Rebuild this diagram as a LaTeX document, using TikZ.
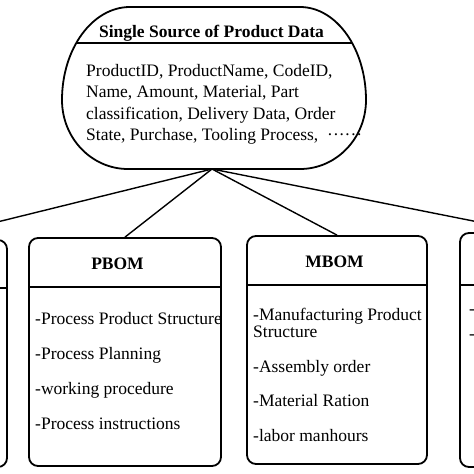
\documentclass[tikz,border=0pt]{standalone}
\usepackage{fontspec}
\setmainfont{Liberation Serif}
\begin{document}
\begin{tikzpicture}[x=1pt,y=-1pt,
  box/.style={draw, line width=1.8pt, rounded corners=9pt, inner sep=0pt},
  outline/.style={line width=1.8pt},
  divider/.style={line width=1.8pt},
  conn/.style={line width=1.4pt},
  txt/.style={anchor=base west, inner sep=0pt, font=\fontsize{17.5}{21}\selectfont},
  ttl/.style={anchor=base, inner sep=0pt, font=\fontsize{17.5}{21}\selectfont\bfseries}]
\useasboundingbox (0,0) rectangle (474,474);

% top source shape
\draw[outline] (130,7) -- (300,7)
  arc[start angle=-90, end angle=0, x radius=66, y radius=93]
  arc[start angle=0, end angle=90, x radius=66, y radius=69]
  -- (128,169)
  arc[start angle=90, end angle=180, x radius=66, y radius=69]
  arc[start angle=180, end angle=270, x radius=68, y radius=93] -- cycle;
\coordinate (hl) at (76.3,43);
\coordinate (hr) at (352.1,43);
\draw[divider] (hl) -- (hr);
\coordinate (src) at (212,169);
\node[ttl] (srctitle) at (211.5,37) {Single Source of Product Data};
\node[txt] (b1) at (86,76) {ProductID, ProductName, CodeID,};
\node[txt] (b2) at (86,97.5) {Name, Amount, Material, Part};
\node[txt] (b3) at (86,119) {classification, Delivery Data, Order};
\node[txt] (b4) at (86,140.5) {State, Purchase, Tooling Process,};
\node[txt] (dots) at (327,140.5) {······};

% boxes
\node[box, minimum width=158pt, minimum height=227pt] (lbox) at (-72,353.5) {};
\node[box, minimum width=192pt, minimum height=228pt] (pbom) at (125,352) {};
\node[box, minimum width=180pt, minimum height=228pt] (mbom) at (337,350) {};
\node[box, minimum width=138pt, minimum height=234pt] (rbox) at (529,350) {};

% header dividers
\path (lbox.north west) ++(0,49) coordinate (l1);
\path (lbox.north east) ++(0,49) coordinate (l2);
\draw[divider] (l1) -- (l2);
\path (pbom.north west) ++(0,50) coordinate (p1);
\path (pbom.north east) ++(0,50) coordinate (p2);
\draw[divider] (p1) -- (p2);
\path (mbom.north west) ++(0,50) coordinate (m1);
\path (mbom.north east) ++(0,50) coordinate (m2);
\draw[divider] (m1) -- (m2);
\path (rbox.north west) ++(0,53) coordinate (r1);
\path (rbox.north east) ++(0,53) coordinate (r2);
\draw[divider] (r1) -- (r2);

% connectors
\draw[conn] (src) -- (lbox.north);
\draw[conn] (src) -- (pbom.north);
\draw[conn] (src) -- (mbom.north);
\draw[conn] (src) -- (rbox.north);

% PBOM
\node[ttl] (ptitle) at (117.5,269) {PBOM};
\node[txt] (p_a) at (35,324) {-Process Product Structure};
\node[txt] (p_b) at (35,359) {-Process Planning};
\node[txt] (p_c) at (35,394) {-working procedure};
\node[txt] (p_d) at (35,429) {-Process instructions};

% MBOM
\node[ttl] (mtitle) at (334.5,267) {MBOM};
\node[txt] (m_a) at (253,320) {-Manufacturing Product};
\node[txt] (m_a2) at (253,337) {Structure};
\node[txt] (m_b) at (253,372) {-Assembly order};
\node[txt] (m_c) at (253,406) {-Material Ration};
\node[txt] (m_d) at (253,441) {-labor manhours};

% right box visible dashes
\node[txt] (r_a) at (469,314) {-};
\node[txt] (r_b) at (469,339) {-};
\end{tikzpicture}
\end{document}
